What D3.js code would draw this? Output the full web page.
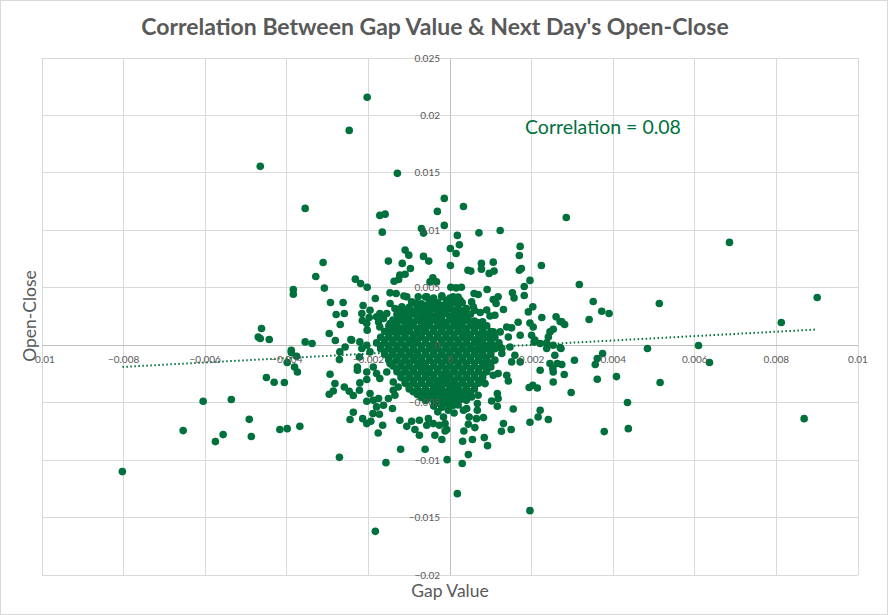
<!DOCTYPE html>
<html>
<head>
<meta charset="utf-8">
<script src="https://cdn.jsdelivr.net/npm/d3@7"></script>
<style>
  body { margin: 0; background: #fff; }
  svg { display: block; }
</style>
</head>
<body>
<script>
const title = "Correlation Between Gap Value & Next Day's Open-Close";
const xTitle = "Gap Value";
const yTitle = "Open-Close";
const note = "Correlation = 0.08";

const xTicks = [-0.01, -0.008, -0.006, -0.004, -0.002, 0, 0.002, 0.004, 0.006, 0.008, 0.01];
const yTicks = [0.025, 0.02, 0.015, 0.01, 0.005, 0, -0.005, -0.01, -0.015, -0.02];

// trend line
const trendSlope = 0.1914;
const trendIntercept = -0.000353;

// [gap value, open-close]
const outerPts = [
  [-0.00465,0.01557],[-0.00384,0.00485],[-0.00384,0.00444],[-0.00462,0.00145],[-0.0047,0.00072],
  [-0.00465,0.00058],[-0.00443,0.0005],[-0.00389,-0.00044],[-0.00389,-0.00064],[-0.00376,-0.00096],
  [-0.00399,-0.00151],[-0.00381,-0.00189],[-0.00374,-0.00233],[-0.0045,-0.00281],[-0.00431,-0.00322],
  [-0.00406,-0.00325],[-0.00605,-0.00488],[-0.00536,-0.00473],[-0.00492,-0.00645],[-0.00654,-0.00743],
  [-0.00556,-0.00778],[-0.00575,-0.00839],[-0.00487,-0.00795],[-0.00417,-0.00734],[-0.00399,-0.00726],
  [-0.00368,-0.00706],[-0.00803,-0.011],
  [0.00685,0.00895],[0.009,0.00416],[0.00513,0.00363],[0.00372,0.00296],[0.0039,0.00276],
  [0.00812,0.00198],[0.00484,-0.00029],[0.00609,-0.00003],[0.00636,-0.00151],[0.00374,-0.00072],
  [0.00408,-0.00273],[0.00515,-0.00325],[0.00435,-0.00499],[0.00868,-0.00639],[0.00437,-0.00726],
  [0.00361,-0.00296],[0.00378,-0.00752],[0.00317,0.00529],[0.00351,0.00381],[0.00341,0.00224],
  [0.00274,0.00203],[0.00281,0.0018],[0.00272,-0.00029],[0.00361,-0.00116],[0.00356,-0.00168],
  [0.00305,-0.00131],[0.00274,-0.00168],[0.0028,-0.00255],[0.00297,-0.00412],[0.00285,0.01112],
  [-0.00203,0.02158],[-0.00247,0.0187],[-0.00129,0.01496],[-0.00014,0.01278],[0.00033,0.01208],
  [-0.00031,0.01165],[-0.00172,0.0113],[-0.00159,0.01141],[-0.00014,0.01043],[-0.00166,0.00984],
  [-0.0007,0.01015],[-0.00065,0.00976],[0.00018,0.00956],[0.00071,0.00978],[-0.00355,0.01191],
  [0.00123,0.00999],[0.00023,0.00874],[0.00015,0.00799],[0.00001,0.00842],[0.00172,0.0086],
  [0.0017,0.00781],[0.00077,0.00712],[0.00077,0.00662],[0.00106,0.00723],[0.00108,0.00645],
  [0.00096,0.00625],[0.00224,0.00694],[0.00001,0.00694],[0.00044,0.00653],[0.00051,0.00645],
  [0.0017,0.00653],[0.00175,0.00668],[0.00196,0.00564],[0.00182,0.00511],[0.00091,0.00485],
  [0.00002,0.00505],[0.00015,0.00499],[0.00028,0.00505],[0.00182,0.00433],[0.00153,0.00456],
  [0.00157,0.00412],[0.00059,0.0045],[0.00069,0.00442],[0.00106,0.00398],[0.00118,0.00421],
  [0.00113,0.00363],[0.00203,0.00334],[0.00192,0.0029],[0.00225,0.00241],[0.0026,0.00247],
  [0.0027,0.00206],[0.00167,0.002],[0.00131,0.00311],[0.0009,0.00307],[0.00074,0.00285],
  [0.0006,0.00305],[0.00053,0.00377],[0.00057,0.00334],[0.00025,0.00392],[0.00012,0.00377],
  [-0.00008,0.00392],[-0.0002,0.00421],[-0.00004,0.00334],[0.00004,0.00363],[0.0002,0.00276],
  [0.00037,0.00305],[0.00037,0.00247],[0.00049,0.00203],[0.0008,0.00203],[0.00098,0.00255],
  [0.0011,0.00261],[0.00139,0.00159],[0.00151,0.00151],[0.00172,0.00087],[0.00143,0.00072],
  [0.00196,0.00194],[0.00204,0.00159],[0.002,0.00087],[0.00208,0.00044],[0.00245,0.00116],
  [0.00253,0.00139],[0.00241,0.00072],[0.00221,0.00015],[0.00237,0.0002],[0.00082,0.00102],
  [0.00106,0.00116],[0.00123,0.00116],[0.00102,0.00058],[0.00065,0.00044],[0.0009,-0.00015],
  [0.00123,-0.00015],[0.00147,-0.00015],[0.00074,0.00015],[0.00127,-0.00029],[0.00127,-0.00072],
  [0.00159,-0.00087],[0.00172,-0.00145],[0.00151,-0.00145],[0.00206,0.00029],[0.00237,-0.00029],
  [0.00253,0.0],[0.0027,-0.0002],[0.00257,-0.00087],[0.00245,-0.00159],[0.00263,-0.00159],
  [0.00221,-0.00218],[0.00252,-0.00203],[0.00253,-0.00233],[0.00253,-0.0032],[0.00194,-0.00368],
  [0.00203,-0.00348],[0.00214,-0.00372],[0.00221,-0.00566],[0.00216,-0.00625],[0.00241,-0.00647],
  [0.00196,-0.00671],[0.00155,-0.00555],[0.00131,-0.00682],[0.00126,-0.00749],[0.0015,-0.00734],
  [0.00116,-0.00421],[0.00118,-0.00464],[0.00102,-0.00485],[0.00116,-0.00531],[0.00139,-0.00261],
  [0.00143,-0.00311],[0.00118,-0.00247],[0.00106,-0.00261],[0.00086,-0.00334],[0.00069,-0.00436],
  [0.00067,-0.00508],[0.00053,-0.0045],[0.00041,-0.00551],[0.00033,-0.00566],[0.00047,-0.00625],
  [0.00067,-0.00566],[0.00065,-0.00639],[0.00082,-0.0063],[0.00061,-0.00717],[0.00045,-0.00688],
  [0.00034,-0.00747],[0.00055,-0.00821],[0.00031,-0.00836],[0.00084,-0.00804],[0.00092,-0.00874],
  [0.00045,-0.00952],[0.0003,-0.0103],[-0.00007,-0.00996],[0.00018,-0.01292],[0.00196,-0.0144],
  [-0.0002,-0.00821],[-0.00008,-0.00734],[-0.00016,-0.00625],[0.00015,-0.00429],[0.00025,-0.00473],
  [0.00008,-0.00523],[-0.00004,-0.00566],[-0.00012,-0.00682],
  [-0.00355,0.00029],[-0.00338,0.00015],[-0.0027,-0.00058],[-0.00271,-0.00125],[-0.00257,-0.00015],
  [-0.00241,0.00044],[-0.00221,0.00029],[-0.00216,-0.00029],[-0.00204,0.0],[-0.00196,-0.00058],
  [-0.00222,-0.00102],[-0.00227,-0.00189],[-0.00227,-0.00218],[-0.00204,-0.00233],[-0.00188,-0.00189],
  [-0.0018,-0.00247],[-0.00172,-0.0029],[-0.00155,-0.00233],[-0.00147,-0.00159],[-0.00294,-0.00253],
  [-0.00282,-0.00334],[-0.00296,-0.00427],[-0.00286,-0.00398],[-0.00259,-0.00363],[-0.00247,-0.00401],
  [-0.00237,-0.00438],[-0.00222,-0.00392],[-0.00221,-0.00328],[-0.00204,-0.00299],[-0.00196,-0.00421],
  [-0.00204,-0.00488],[-0.00188,-0.00479],[-0.00175,-0.00464],[-0.0018,-0.00537],[-0.00163,-0.00523],
  [-0.00151,-0.00464],[-0.00139,-0.00392],[-0.00135,-0.00436],[-0.00127,-0.00363],[-0.00139,-0.0032],
  [-0.00237,-0.00584],[-0.00245,-0.00647],[-0.00214,-0.00639],[-0.00204,-0.00682],[-0.00194,-0.00662],
  [-0.00189,-0.00595],[-0.00173,-0.00601],[-0.00165,-0.00697],[-0.00176,-0.00764],[-0.00141,-0.00551],
  [-0.00123,-0.00653],[-0.00106,-0.00706],[-0.00094,-0.00662],[-0.00086,-0.00734],[-0.00075,-0.00784],
  [-0.00075,-0.00653],[-0.00057,-0.00697],[-0.00053,-0.00639],[-0.00041,-0.00682],[-0.00037,-0.00784],
  [-0.00026,-0.00697],[-0.00271,-0.00976],[-0.00157,-0.01022],[-0.00121,-0.00906],[-0.00061,-0.00906],
  [-0.00183,-0.0162],[0.00015,-0.00348],[0.00008,-0.00421],[-0.00008,-0.00334],[-0.00004,-0.00276],
  [-0.00016,-0.00305],[-0.00012,-0.00747],
  [-0.0011,0.00828],[-0.00101,0.00784],[-0.00065,0.00773],[-0.00052,0.00732],[-0.00151,0.00732],
  [-0.00311,0.0072],[-0.00117,0.00712],[-0.00097,0.00668],[-0.00329,0.00598],[-0.00123,0.0061],
  [-0.0011,0.00618],[-0.00232,0.00575],[-0.00219,0.00537],[-0.00203,0.00505],[-0.00137,0.00557],
  [-0.00126,0.00572],[-0.00308,0.00497],[-0.00042,0.00586],[-0.00033,0.00551],[-0.00049,0.00551],
  [-0.00183,0.00407],[-0.00147,0.00456],[-0.00132,0.0045],[-0.00113,0.00429],[-0.00293,0.00372],
  [-0.00262,0.00372],[-0.00213,0.00346],[-0.00279,0.00267],[-0.00259,0.00276],[-0.00269,0.0018],
  [-0.00215,0.00215],[-0.00198,0.00241],[-0.00296,0.00102],[-0.00281,0.00041],[-0.00243,0.0005],
  [-0.00172,0.00276],[-0.00155,0.00276],[-0.00163,0.00233],[-0.00175,0.00203],[-0.00204,0.00189],
  [-0.00203,0.00131],[-0.00172,0.00159],[-0.00147,0.00131],[-0.00131,0.00203],[-0.00114,0.00247],
  [-0.00106,0.00189],[-0.0009,0.00276],[-0.00082,0.00363],[-0.00074,0.00305],[-0.00057,0.00334],
  [-0.00041,0.00363],[-0.00025,0.00334],[0.00008,0.00421],[0.00016,0.00305],[-0.00078,0.00421],
  [-0.00106,0.00421],[-0.00057,0.00421],[-0.00094,0.00377],[-0.00147,0.00363],[-0.00135,0.0032],
  [-0.00118,0.00334],[-0.00106,0.00305],[-0.00123,0.00276],[-0.00196,0.00305],[-0.00216,0.00276],
  [-0.0018,0.00247],[-0.00147,0.00189],[-0.00131,0.00116],[-0.00114,0.00131],[-0.00098,0.00159],
  [-0.00082,0.00218],[-0.00065,0.00247],[-0.00049,0.00276],[-0.00033,0.00247],[-0.00016,0.00276],
  [0.0,0.00247],[0.00016,0.00218]
];

// the packed centre of the cloud
const corePts = [
  [-0.0006,0.0042],[-0.0004,0.0041],[-0.0002,0.0043],[0.0000,0.0041],[0.0002,0.0042],
  [-0.0009,0.0037],[-0.0007,0.0036],[-0.0005,0.0038],[-0.0003,0.0037],[-0.0001,0.0036],[0.0001,0.0038],
  [0.0003,0.0037],
  [-0.0012,0.0032],[-0.0010,0.0033],[-0.0008,0.0032],[-0.0006,0.0031],[-0.0004,0.0032],[-0.0002,0.0033],
  [0.0000,0.0032],[0.0002,0.0031],[0.0004,0.0032],
  [-0.0013,0.0027],[-0.0011,0.0027],[-0.0009,0.0028],[-0.0007,0.0027],[-0.0005,0.0026],[-0.0003,0.0027],
  [-0.0001,0.0028],[0.0001,0.0027],[0.0003,0.0026],[0.0005,0.0027],
  [-0.0014,0.0022],[-0.0012,0.0022],[-0.0010,0.0021],[-0.0008,0.0022],[-0.0006,0.0021],[-0.0004,0.0022],
  [-0.0002,0.0021],[0.0000,0.0022],[0.0002,0.0021],[0.0004,0.0022],[0.0006,0.0021],
  [-0.0015,0.0017],[-0.0013,0.0017],[-0.0011,0.0017],[-0.0009,0.0017],[-0.0007,0.0016],[-0.0005,0.0017],
  [-0.0003,0.0017],[-0.0001,0.0017],[0.0001,0.0017],[0.0003,0.0016],[0.0005,0.0017],[0.0007,0.0017],
  [0.0009,0.0017],
  [-0.0016,0.0012],[-0.0014,0.0012],[-0.0012,0.0012],[-0.0010,0.0012],[-0.0008,0.0011],[-0.0006,0.0012],
  [-0.0004,0.0012],[-0.0002,0.0012],[0.0000,0.0012],[0.0002,0.0012],[0.0004,0.0011],[0.0006,0.0012],
  [0.0008,0.0012],[0.0010,0.0012],
  [-0.0017,0.0007],[-0.0015,0.0007],[-0.0013,0.0007],[-0.0011,0.0007],[-0.0009,0.0006],[-0.0007,0.0007],
  [-0.0005,0.0007],[-0.0003,0.0007],[-0.0001,0.0007],[0.0001,0.0007],[0.0003,0.0007],[0.0005,0.0007],
  [0.0007,0.0006],[0.0009,0.0007],[0.0011,0.0007],
  [-0.0018,0.0002],[-0.0016,0.0002],[-0.0014,0.0002],[-0.0012,0.0002],[-0.0010,0.0002],[-0.0008,0.0002],
  [-0.0006,0.0002],[-0.0004,0.0001],[-0.0002,0.0002],[0.0000,0.0002],[0.0002,0.0002],[0.0004,0.0002],
  [0.0006,0.0002],[0.0008,0.0002],[0.0010,0.0002],[0.0012,0.0002],
  [-0.0017,-0.0003],[-0.0015,-0.0003],[-0.0013,-0.0003],[-0.0011,-0.0003],[-0.0009,-0.0004],
  [-0.0007,-0.0003],[-0.0005,-0.0003],[-0.0003,-0.0003],[-0.0001,-0.0003],[0.0001,-0.0003],
  [0.0003,-0.0003],[0.0005,-0.0003],[0.0007,-0.0004],[0.0009,-0.0003],[0.0011,-0.0003],
  [-0.0016,-0.0008],[-0.0014,-0.0008],[-0.0012,-0.0008],[-0.0010,-0.0008],[-0.0008,-0.0009],
  [-0.0006,-0.0008],[-0.0004,-0.0008],[-0.0002,-0.0008],[0.0000,-0.0008],[0.0002,-0.0008],
  [0.0004,-0.0008],[0.0006,-0.0008],[0.0008,-0.0009],[0.0010,-0.0008],
  [-0.0015,-0.0013],[-0.0013,-0.0013],[-0.0011,-0.0013],[-0.0009,-0.0013],[-0.0007,-0.0014],
  [-0.0005,-0.0013],[-0.0003,-0.0013],[-0.0001,-0.0013],[0.0001,-0.0013],[0.0003,-0.0013],
  [0.0005,-0.0013],[0.0007,-0.0013],[0.0009,-0.0014],[0.0011,-0.0013],
  [-0.0014,-0.0018],[-0.0012,-0.0018],[-0.0010,-0.0018],[-0.0008,-0.0018],[-0.0006,-0.0019],
  [-0.0004,-0.0018],[-0.0002,-0.0018],[0.0000,-0.0018],[0.0002,-0.0018],[0.0004,-0.0018],
  [0.0006,-0.0018],[0.0008,-0.0018],[0.0010,-0.0019],
  [-0.0013,-0.0023],[-0.0011,-0.0023],[-0.0009,-0.0023],[-0.0007,-0.0023],[-0.0005,-0.0024],
  [-0.0003,-0.0023],[-0.0001,-0.0023],[0.0001,-0.0023],[0.0003,-0.0023],[0.0005,-0.0023],
  [0.0007,-0.0023],[0.0009,-0.0023],
  [-0.0012,-0.0028],[-0.0010,-0.0028],[-0.0008,-0.0028],[-0.0006,-0.0028],[-0.0004,-0.0029],
  [-0.0002,-0.0028],[0.0000,-0.0028],[0.0002,-0.0028],[0.0004,-0.0028],[0.0006,-0.0028],
  [0.0008,-0.0028],
  [-0.0011,-0.0033],[-0.0009,-0.0033],[-0.0007,-0.0033],[-0.0005,-0.0033],[-0.0003,-0.0034],
  [-0.0001,-0.0033],[0.0001,-0.0033],[0.0003,-0.0033],[0.0005,-0.0033],[0.0007,-0.0033],
  [-0.0010,-0.0038],[-0.0008,-0.0038],[-0.0006,-0.0038],[-0.0004,-0.0038],[-0.0002,-0.0039],
  [0.0000,-0.0038],[0.0002,-0.0038],[0.0004,-0.0038],[0.0006,-0.0038],
  [-0.0008,-0.0043],[-0.0006,-0.0043],[-0.0004,-0.0043],[-0.0002,-0.0043],[0.0000,-0.0044],
  [0.0002,-0.0043],[0.0004,-0.0043],
  [-0.0006,-0.0048],[-0.0004,-0.0048],[-0.0002,-0.0048],[0.0000,-0.0049],[0.0002,-0.0048],
  [0.0004,-0.0048],
  [-0.0004,-0.0053],[-0.0002,-0.0054],[0.0000,-0.0053],[0.0002,-0.0052],
  [-0.0003,-0.0058],[0.0001,-0.0059]
];

// points sitting between the rows of the centre
const coreFillPts = [
  [-0.0008,0.00345],[-0.0006,0.00345],[-0.0004,0.00345],[-0.0002,0.00345],[0.0000,0.00345],[0.0002,0.00345],
  [-0.0011,0.00295],[-0.0009,0.00295],[-0.0007,0.00295],[-0.0005,0.00295],[-0.0003,0.00295],[-0.0001,0.00295],
  [0.0001,0.00295],[0.0003,0.00295],
  [-0.0012,0.00245],[-0.0010,0.00245],[-0.0008,0.00245],[-0.0006,0.00245],[-0.0004,0.00245],[-0.0002,0.00245],
  [0.0000,0.00245],[0.0002,0.00245],[0.0004,0.00245],
  [-0.0013,0.00195],[-0.0011,0.00195],[-0.0009,0.00195],[-0.0007,0.00195],[-0.0005,0.00195],[-0.0003,0.00195],
  [-0.0001,0.00195],[0.0001,0.00195],[0.0003,0.00195],[0.0005,0.00195],[0.0007,0.00195],
  [-0.0014,0.00145],[-0.0012,0.00145],[-0.0010,0.00145],[-0.0008,0.00145],[-0.0006,0.00145],[-0.0004,0.00145],
  [-0.0002,0.00145],[0.0000,0.00145],[0.0002,0.00145],[0.0004,0.00145],[0.0006,0.00145],[0.0008,0.00145],
  [-0.0015,0.00095],[-0.0013,0.00095],[-0.0011,0.00095],[-0.0009,0.00095],[-0.0007,0.00095],[-0.0005,0.00095],
  [-0.0003,0.00095],[-0.0001,0.00095],[0.0001,0.00095],[0.0003,0.00095],[0.0005,0.00095],[0.0007,0.00095],
  [0.0009,0.00095],
  [-0.0016,0.00045],[-0.0014,0.00045],[-0.0012,0.00045],[-0.0010,0.00045],[-0.0008,0.00045],[-0.0006,0.00045],
  [-0.0004,0.00045],[-0.0002,0.00045],[0.0000,0.00045],[0.0002,0.00045],[0.0004,0.00045],[0.0006,0.00045],
  [0.0008,0.00045],[0.0010,0.00045],
  [-0.0017,-0.00005],[-0.0015,-0.00005],[-0.0013,-0.00005],[-0.0011,-0.00005],[-0.0009,-0.00005],
  [-0.0007,-0.00005],[-0.0005,-0.00005],[-0.0003,-0.00005],[-0.0001,-0.00005],[0.0001,-0.00005],
  [0.0003,-0.00005],[0.0005,-0.00005],[0.0007,-0.00005],[0.0009,-0.00005],[0.0011,-0.00005],
  [-0.0016,-0.00055],[-0.0014,-0.00055],[-0.0012,-0.00055],[-0.0010,-0.00055],[-0.0008,-0.00055],
  [-0.0006,-0.00055],[-0.0004,-0.00055],[-0.0002,-0.00055],[0.0000,-0.00055],[0.0002,-0.00055],
  [0.0004,-0.00055],[0.0006,-0.00055],[0.0008,-0.00055],[0.0010,-0.00055],
  [-0.0015,-0.00105],[-0.0013,-0.00105],[-0.0011,-0.00105],[-0.0009,-0.00105],[-0.0007,-0.00105],
  [-0.0005,-0.00105],[-0.0003,-0.00105],[-0.0001,-0.00105],[0.0001,-0.00105],[0.0003,-0.00105],
  [0.0005,-0.00105],[0.0007,-0.00105],[0.0009,-0.00105],
  [-0.0014,-0.00155],[-0.0012,-0.00155],[-0.0010,-0.00155],[-0.0008,-0.00155],[-0.0006,-0.00155],
  [-0.0004,-0.00155],[-0.0002,-0.00155],[0.0000,-0.00155],[0.0002,-0.00155],[0.0004,-0.00155],
  [0.0006,-0.00155],[0.0008,-0.00155],[0.0010,-0.00155],
  [-0.0013,-0.00205],[-0.0011,-0.00205],[-0.0009,-0.00205],[-0.0007,-0.00205],[-0.0005,-0.00205],
  [-0.0003,-0.00205],[-0.0001,-0.00205],[0.0001,-0.00205],[0.0003,-0.00205],[0.0005,-0.00205],
  [0.0007,-0.00205],[0.0009,-0.00205],
  [-0.0012,-0.00255],[-0.0010,-0.00255],[-0.0008,-0.00255],[-0.0006,-0.00255],[-0.0004,-0.00255],
  [-0.0002,-0.00255],[0.0000,-0.00255],[0.0002,-0.00255],[0.0004,-0.00255],[0.0006,-0.00255],
  [0.0008,-0.00255],
  [-0.0011,-0.00305],[-0.0009,-0.00305],[-0.0007,-0.00305],[-0.0005,-0.00305],[-0.0003,-0.00305],
  [-0.0001,-0.00305],[0.0001,-0.00305],[0.0003,-0.00305],[0.0005,-0.00305],[0.0007,-0.00305],
  [-0.0010,-0.00355],[-0.0008,-0.00355],[-0.0006,-0.00355],[-0.0004,-0.00355],[-0.0002,-0.00355],
  [0.0000,-0.00355],[0.0002,-0.00355],[0.0004,-0.00355],[0.0006,-0.00355],
  [-0.0009,-0.00405],[-0.0007,-0.00405],[-0.0005,-0.00405],[-0.0003,-0.00405],[-0.0001,-0.00405],
  [0.0001,-0.00405],[0.0003,-0.00405],[0.0005,-0.00405],
  [-0.0007,-0.00455],[-0.0005,-0.00455],[-0.0003,-0.00455],[-0.0001,-0.00455],[0.0001,-0.00455],
  [0.0003,-0.00455],
  [-0.0003,-0.00505],[-0.0001,-0.00505],[0.0001,-0.00505]
];

const W = 888, H = 615;
const green = "#00703c";

const svg = d3.select("body").append("svg")
  .attr("width", W).attr("height", H)
  .style("font-family", "Lato, 'Open Sans', sans-serif");

svg.append("rect").attr("x", 0.5).attr("y", 0.5)
  .attr("width", W - 1).attr("height", H - 1)
  .attr("fill", "#fff").attr("stroke", "#d9d9d9");

const x = d3.scaleLinear().domain([-0.01, 0.01]).range([42, 858]);
const y = d3.scaleLinear().domain([-0.02, 0.025]).range([575, 58]);

// grid
svg.append("g").selectAll("line").data(xTicks).join("line")
  .attr("x1", d => x(d)).attr("x2", d => x(d))
  .attr("y1", y(0.025)).attr("y2", y(-0.02))
  .attr("stroke", d => d === 0 ? "#bfbfbf" : "#d9d9d9").attr("stroke-width", 1)
  .attr("shape-rendering", "crispEdges");
svg.append("g").selectAll("line").data(yTicks).join("line")
  .attr("y1", d => y(d)).attr("y2", d => y(d))
  .attr("x1", x(-0.01)).attr("x2", x(0.01))
  .attr("stroke", d => d === 0 ? "#bfbfbf" : "#d9d9d9").attr("stroke-width", 1)
  .attr("shape-rendering", "crispEdges");

// points
const allPts = outerPts.concat(corePts, coreFillPts);
svg.append("g").selectAll("circle").data(allPts).join("circle")
  .attr("cx", d => x(d[0])).attr("cy", d => y(d[1]))
  .attr("r", 3.8).attr("fill", green);

// trendline
const gx = d3.extent(allPts, d => d[0]);
svg.append("line")
  .attr("x1", x(gx[0])).attr("y1", y(trendSlope * gx[0] + trendIntercept))
  .attr("x2", x(gx[1])).attr("y2", y(trendSlope * gx[1] + trendIntercept))
  .attr("stroke", green).attr("stroke-width", 2)
  .attr("stroke-dasharray", "1.5,2.5");

// tick labels
svg.append("g").selectAll("text").data(xTicks).join("text")
  .attr("x", d => x(d)).attr("y", y(0) + 18)
  .attr("text-anchor", "middle")
  .attr("font-size", 10).attr("fill", "#595959")
  .text(d => d3.format("")(d));
svg.append("g").selectAll("text").data(yTicks).join("text")
  .attr("x", x(0) - 10).attr("y", d => y(d) + 3.5)
  .attr("text-anchor", "end")
  .attr("font-size", 10).attr("fill", "#595959")
  .text(d => d3.format("")(d));

// titles
svg.append("text").attr("x", 435).attr("y", 35)
  .attr("text-anchor", "middle").attr("font-size", 23).attr("font-weight", "bold")
  .attr("fill", "#595959").text(title);
svg.append("text").attr("x", 450).attr("y", 597)
  .attr("text-anchor", "middle").attr("font-size", 17.5)
  .attr("fill", "#595959").text(xTitle);
svg.append("text").attr("transform", "translate(36,316) rotate(-90)")
  .attr("text-anchor", "middle").attr("font-size", 17.5)
  .attr("fill", "#595959").text(yTitle);
svg.append("text").attr("x", 525).attr("y", 134)
  .attr("font-size", 19.5).attr("fill", green).text(note);
</script>
</body>
</html>
